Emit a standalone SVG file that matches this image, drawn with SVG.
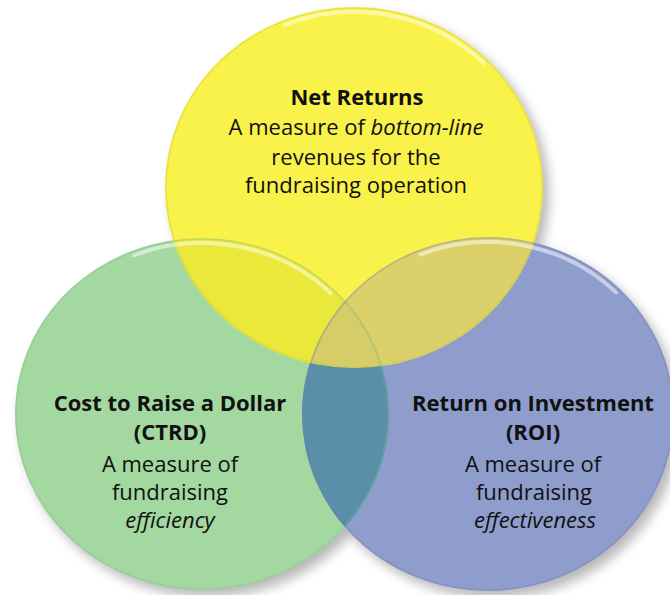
<svg xmlns="http://www.w3.org/2000/svg" width="670" height="595" viewBox="0 0 670 595">
  <style>
    .label { font-family: "Open Sans", "Noto Sans", sans-serif; font-size: 22px; fill: #111; text-anchor: middle; }
    .title { font-weight: bold; font-size: 22px; }
    .em { font-style: italic; }
    .rim { fill: none; stroke-width: 1.5; opacity: 0.35; }
    .gloss { fill: none; stroke: #ffffff; stroke-width: 4; stroke-linecap: round; opacity: 0.5; }
  </style>
  <defs>
    <filter id="soft-shadow" x="-20%" y="-20%" width="140%" height="140%">
      <feGaussianBlur stdDeviation="6"/>
    </filter>
    <clipPath id="clip-yellow"><ellipse cx="354" cy="187.5" rx="189" ry="180.5"/></clipPath>
    <clipPath id="clip-green"><ellipse cx="202" cy="414" rx="187" ry="176"/></clipPath>
    <clipPath id="clip-blue"><ellipse cx="488" cy="414" rx="186" ry="177"/></clipPath>
  </defs>

  <rect width="670" height="595" fill="#ffffff"/>

  <!-- soft shadows cast down and to the right -->
  <g filter="url(#soft-shadow)" fill="#000" opacity="0.28">
    <ellipse cx="360" cy="194" rx="189" ry="180.5"/>
    <ellipse cx="208" cy="421" rx="187" ry="176"/>
    <ellipse cx="494" cy="421" rx="186" ry="177"/>
  </g>

  <!-- base discs -->
  <g id="node-ctrd-disc">
    <ellipse cx="202" cy="414" rx="187" ry="176" fill="#a3d8a0"/>
  </g>
  <g id="node-roi-disc">
    <ellipse cx="488" cy="414" rx="186" ry="177" fill="#8e9dcb"/>
  </g>
  <g id="node-net-returns-disc">
    <ellipse cx="354" cy="187.5" rx="189" ry="180.5" fill="#f9f24b"/>
  </g>

  <!-- overlap regions -->
  <g id="overlaps">
    <ellipse cx="202" cy="414" rx="187" ry="176" fill="#e9e83b" clip-path="url(#clip-yellow)"/>
    <ellipse cx="488" cy="414" rx="186" ry="177" fill="#dcd06a" clip-path="url(#clip-yellow)"/>
    <ellipse cx="488" cy="414" rx="186" ry="177" fill="#5a8fa8" clip-path="url(#clip-green)"/>
    <g clip-path="url(#clip-yellow)">
      <ellipse cx="488" cy="414" rx="186" ry="177" fill="#d6cc68" clip-path="url(#clip-green)"/>
    </g>
  </g>

  <!-- rims and gloss highlights -->
  <g id="rims">
    <ellipse class="rim" cx="202" cy="414" rx="186" ry="175" stroke="#7fbf86"/>
    <ellipse class="rim" cx="488" cy="414" rx="185" ry="176" stroke="#6f7fb5"/>
    <ellipse class="rim" cx="354" cy="187.5" rx="188" ry="179.5" stroke="#c9c23a"/>
    <path class="gloss" d="M133.7,255.5 A182,171 0 0,1 330.7,293.1"/>
    <path class="gloss" d="M420.2,254.5 A181,172 0 0,1 616,292.4"/>
    <path class="gloss" d="M285,24.8 A184,175.5 0 0,1 484.1,63.4"/>
  </g>

  <!-- labels -->
  <g id="node-net-returns">
    <text class="label title" x="357" y="105">Net Returns</text>
    <text class="label" x="356" y="135">A measure of <tspan class="em">bottom-line</tspan></text>
    <text class="label" x="356" y="165">revenues for the</text>
    <text class="label" x="356" y="193">fundraising operation</text>
  </g>
  <g id="node-ctrd">
    <text class="label title" x="170" y="411">Cost to Raise a Dollar</text>
    <text class="label title" x="170" y="440">(CTRD)</text>
    <text class="label" x="170" y="472">A measure of</text>
    <text class="label" x="170" y="500">fundraising</text>
    <text class="label em" x="170" y="528">efficiency</text>
  </g>
  <g id="node-roi">
    <text class="label title" x="533" y="411">Return on Investment</text>
    <text class="label title" x="533" y="440">(ROI)</text>
    <text class="label" x="533" y="472">A measure of</text>
    <text class="label" x="534" y="500">fundraising</text>
    <text class="label em" x="535" y="528">effectiveness</text>
  </g>
</svg>
